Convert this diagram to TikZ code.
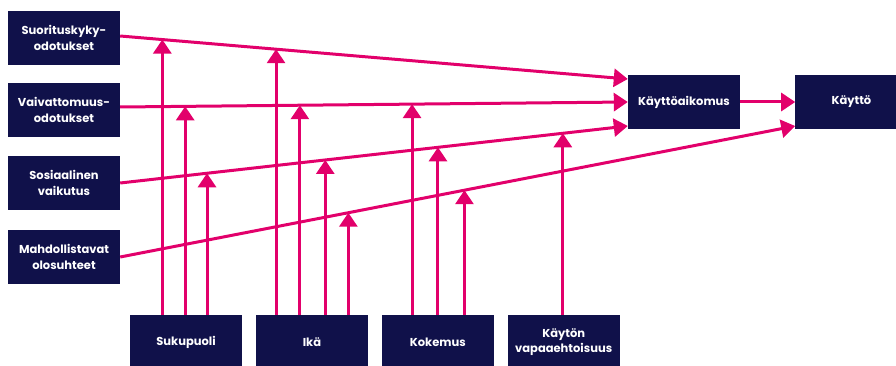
\documentclass[tikz,border=0pt]{standalone}
\usepackage{fontspec}
\setmainfont{Poppins}
\usetikzlibrary{arrows.meta,positioning,calc}
\definecolor{tnavy}{HTML}{10114A}
\definecolor{tpink}{HTML}{E2006B}
\tikzset{
  box/.style={fill=tnavy,text=white,minimum width=112pt,minimum height=54pt,inner sep=2pt,align=center,font=\fontsize{11.5}{15.5}\selectfont\bfseries},
  arr/.style={-{Triangle[width=18pt,length=14pt]},line width=3pt,draw=tpink},
}
\begin{document}
\begin{tikzpicture}[x=1pt,y=-1pt,node distance=13.5pt]
  \clip (0,0) rectangle (896,366);
  \node[box] (se) at (64,38) {Suorituskyky-\\odotukset};
  \node[box] (ve) at (64,110) {Vaivattomuus-\\odotukset};
  \node[box] (sv) at (64,183) {Sosiaalinen\\vaikutus};
  \node[box] (mo) at (64,257) {Mahdollistavat\\olosuhteet};
  \node[box] (ai) at (684,102) {Käyttöaikomus};
  \node[box,right=55pt of ai] (ka) {Käyttö};
  \node[box] (su) at (186,342) {Sukupuoli};
  \node[box,right=of su] (ik) {Ikä};
  \node[box,right=of ik] (ko) {Kokemus};
  \node[box,right=of ko] (vp) {Käytön\\vapaaehtoisuus};
  \draw[arr] ([yshift=2pt]se.east) -- coordinate[pos=0.083] (se1) coordinate[pos=0.307] (se2) ([yshift=23pt]ai.west);
  \draw[arr] ([yshift=3pt]ve.east) -- coordinate[pos=0.128] (ve1) coordinate[pos=0.354] (ve2) coordinate[pos=0.575] (ve3) (ai.west);
  \draw[arr] (sv.east) -- coordinate[pos=0.171] (sv1) coordinate[pos=0.404] (sv2) coordinate[pos=0.626] (sv3) coordinate[pos=0.872] (sv4) ([yshift=-24pt]ai.west);
  \draw[arr] (mo.east) -- coordinate[pos=0.338] (mo1) coordinate[pos=0.510] (mo2) ([yshift=-24pt]ka.west);
  \draw[arr] (ai) -- (ka);
  \draw[arr] (su.north -| se1) -- (se1); \draw[arr] (su.north -| ve1) -- (ve1); \draw[arr] (su.north -| sv1) -- (sv1);
  \draw[arr] (ik.north -| se2) -- (se2); \draw[arr] (ik.north -| ve2) -- (ve2); \draw[arr] (ik.north -| sv2) -- (sv2); \draw[arr] (ik.north -| mo1) -- (mo1);
  \draw[arr] (ko.north -| ve3) -- (ve3); \draw[arr] (ko.north -| sv3) -- (sv3); \draw[arr] (ko.north -| mo2) -- (mo2);
  \draw[arr] (vp.north -| sv4) -- (sv4);
\end{tikzpicture}
\end{document}
